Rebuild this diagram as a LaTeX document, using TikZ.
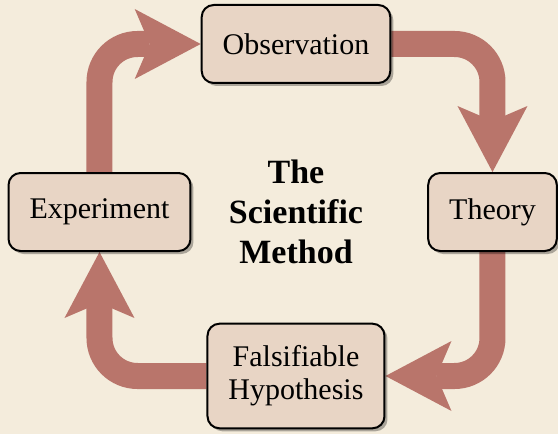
\documentclass[tikz,border=0pt]{standalone}
\usepackage{fontspec}
\setmainfont{Liberation Serif}
\usetikzlibrary{arrows.meta, shadows, positioning}
\definecolor{paper}{RGB}{244,236,220}
\definecolor{boxfill}{RGB}{232,213,197}
\definecolor{loopred}{RGB}{185,117,107}
\pgfdeclarelayer{bg}
\pgfsetlayers{bg,main}
\tikzset{
  phase/.style={
    rectangle, rounded corners=6pt, draw=black, fill=boxfill,
    minimum height=39pt, inner xsep=10.5pt, inner ysep=11pt,
    font=\fontsize{15}{16.5}\selectfont, align=center, line width=1pt,
    drop shadow={shadow xshift=1.5pt, shadow yshift=-1.5pt, fill=black, opacity=0.3}
  },
  heading/.style={align=center, font=\bfseries\fontsize{17}{20}\selectfont},
  flow/.style={
    draw=loopred, line width=13pt, rounded corners=19pt,
    -{Stealth[length=33pt, width=35pt, inset=7.5pt, line width'=0pt]}
  },
}

\begin{document}
\begin{tikzpicture}
    \useasboundingbox (-148pt,-111pt) rectangle (131pt,106pt);
    \node[heading] (method) at (0,0) {The\\Scientific\\Method};
    \node[phase] (obs) at (0,84pt) {Observation};
    \node[phase] (theory) at (98.25pt,0) {Theory};
    \node[phase] (hypo) at (0,-82pt) {Falsifiable\\Hypothesis};
    \node[phase] (expt) at (-98.25pt,0) {Experiment};

    \begin{pgfonlayer}{bg}
      \fill[paper] (-148pt,-111pt) rectangle (131pt,106pt);
      \draw[flow] (obs.east) -| (theory.north);
      \draw[flow] (theory.south) |- (hypo.east);
      \draw[flow] (hypo.west) -| (expt.south);
      \draw[flow] (expt.north) |- (obs.west);
    \end{pgfonlayer}
  \end{tikzpicture}
\end{document}
